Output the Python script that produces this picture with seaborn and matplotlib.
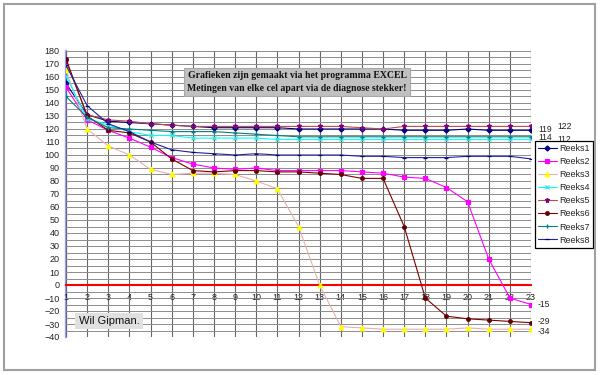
import matplotlib
matplotlib.use("Agg")
import numpy as np
import pandas as pd
import seaborn as sns
import matplotlib.pyplot as plt
from matplotlib.patches import Rectangle
from matplotlib.ticker import MultipleLocator

# ---- data ----
x_vals = list(range(1, 24))
reeks1 = [155, 131, 126, 125, 124, 123, 122, 121, 121, 121, 121, 120, 120, 120, 120, 120, 119, 119, 119, 120, 119, 119, 119]
reeks2 = [152, 127, 119, 113, 106, 98, 93, 90, 89, 90, 88, 88, 88, 88, 87, 86, 83, 82, 75, 64, 20, -10, -15]
reeks3 = [165, 120, 107, 100, 89, 85, 86, 86, 85, 80, 74, 45, 0, -32, -33, -34, -34, -34, -34, -33, -34, -34, -34]
reeks4 = [161, 128, 123, 118, 115, 115, 113, 113, 113, 113, 112, 112, 112, 112, 112, 112, 112, 112, 112, 112, 112, 112, 112]
reeks5 = [172, 131, 127, 126, 124, 123, 122, 122, 122, 122, 122, 122, 122, 122, 121, 120, 122, 122, 122, 122, 122, 122, 122]
reeks6 = [174, 130, 119, 117, 110, 97, 88, 87, 88, 88, 87, 87, 86, 85, 82, 82, 45, -10, -24, -26, -27, -28, -29]
reeks7 = [145, 129, 121, 120, 119, 118, 118, 118, 117, 116, 115, 114, 114, 114, 114, 114, 114, 114, 114, 114, 114, 114, 114]
reeks8 = [169, 138, 124, 118, 110, 104, 102, 101, 100, 101, 100, 100, 100, 100, 99, 99, 98, 98, 98, 99, 99, 99, 97]
series_names = ["Reeks1", "Reeks2", "Reeks3", "Reeks4", "Reeks5", "Reeks6", "Reeks7", "Reeks8"]
y_ticks = list(range(-40, 181, 10))
note_title = "Grafieken zijn gemaakt via het programma EXCEL\nMetingen van elke cel apart via de diagnose stekker!"
author = "Wil Gipman."

all_series = [reeks1, reeks2, reeks3, reeks4, reeks5, reeks6, reeks7, reeks8]
line_colors = ["#000080", "#FF00FF", "#E8AFAF", "#00FFFF", "#C04848", "#800000", "#008080", "#2020A0"]
marker_colors = ["#000080", "#FF00FF", "#FFFF00", "#40E0E0", "#800080", "#600000", "#008080", "#000080"]
markers = ["D", "s", "^", "x", "*", "o", "+", "_"]
msizes = [2.6, 3.2, 3.4, 3.0, 3.6, 2.6, 3.4, 3.4]
label_dx = [7, 7, 7, 26, 26, 7, 7, 7]
label_dy = [1, 0, -2, 0, 0, 1, -1, 0]

sns.set_style("white")
plt.rcParams['font.family'] = ['Liberation Sans', 'DejaVu Sans']

fig = plt.figure(figsize=(6, 3.75), dpi=100)
fig.patch.set_facecolor("white")
ax = fig.add_axes([66 / 600, 1 - 337 / 375, 465 / 600, 286 / 375])

for name, vals, lc, mc, mk, ms in zip(series_names, all_series, line_colors, marker_colors, markers, msizes):
    sns.lineplot(x=x_vals, y=vals, ax=ax, color=lc, marker=mk, markersize=ms,
                 markerfacecolor=mc, markeredgecolor=mc, markeredgewidth=0.9,
                 linewidth=0.8, label=name, zorder=3)

ax.set_xlim(1, 23)
ax.set_ylim(-40, 180)
ax.set_xticks(x_vals)
ax.set_yticks(y_ticks)
ax.yaxis.set_minor_locator(MultipleLocator(5))
ax.grid(True, which="major", axis="x", color="#666666", linewidth=0.8)
ax.grid(True, which="both", axis="y", color="#8C8C8C", linewidth=0.7)
ax.set_axisbelow(True)
ax.xaxis.get_gridlines()[0].set_visible(False)

for s in ["top", "right"]:
    ax.spines[s].set_visible(False)
ax.spines["left"].set_color("#9999FF")
ax.spines["left"].set_linewidth(1.6)
ax.spines["left"].set_zorder(0.4)
ax.spines["bottom"].set_position(("data", 0))
ax.spines["bottom"].set_color("#FF0000")
ax.spines["bottom"].set_linewidth(1.5)
ax.spines["bottom"].set_zorder(2.5)

ax.tick_params(axis="x", which="major", colors="#FF0000", direction="inout", length=3,
               width=1, pad=4, labelsize=6.5, labelcolor="#222222")
ax.tick_params(axis="y", which="major", colors="#9999FF", direction="out", length=2.5,
               width=1, pad=2, labelsize=6.5, labelcolor="#222222")
ax.tick_params(axis="y", which="minor", length=0)
ax.set_xlabel("")
ax.set_ylabel("")

# end-of-series data labels
for vals, dx, dy in zip(all_series, label_dx, label_dy):
    ax.annotate(f"{vals[-1]}", xy=(x_vals[-1], vals[-1]), xytext=(dx, dy),
                textcoords="offset pixels", ha="left", va="center",
                fontsize=6.2, color="#222222", annotation_clip=False, zorder=2)

handles, labels = ax.get_legend_handles_labels()
leg = ax.legend(handles, labels, loc="upper right", bbox_to_anchor=(593 / 600, 1 - 141 / 375),
                bbox_transform=fig.transFigure, frameon=True, fancybox=False,
                fontsize=6.5, handlelength=2.0, handletextpad=0.3, labelspacing=0.45,
                borderpad=0.35, borderaxespad=0)
leg.get_frame().set_edgecolor("#000000")
leg.get_frame().set_linewidth(0.9)
leg.get_frame().set_facecolor("white")
leg.get_frame().set_alpha(1)
leg.set_zorder(10)

fig.text(297 / 600, 1 - 82 / 375, note_title, ha="center", va="center",
         fontsize=7, fontweight="bold", family=["Liberation Serif", "DejaVu Serif"],
         color="#111111", linespacing=1.5,
         bbox=dict(boxstyle="square,pad=0.35", facecolor="#C0C0C0", edgecolor="#A8A8A8", linewidth=0.8))

fig.text(109 / 600, 1 - 321 / 375, author, ha="center", va="center", fontsize=8,
         color="#111111",
         bbox=dict(boxstyle="square,pad=0.3", facecolor="#E0E0E0", edgecolor="none"))

fig.patches.append(Rectangle((4 / 600, 1 - 370 / 375), 591 / 600, 366 / 375,
                             transform=fig.transFigure, fill=False,
                             edgecolor="#A0A0A0", linewidth=1.5, zorder=0))

fig.savefig("out.png", dpi=100, facecolor="white")
